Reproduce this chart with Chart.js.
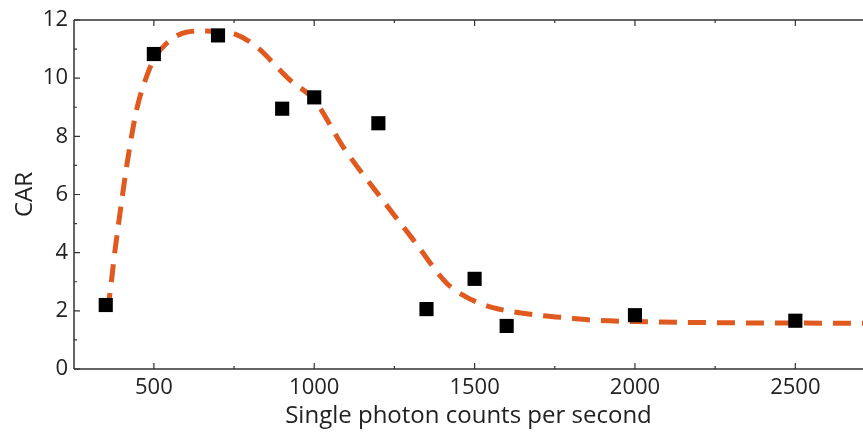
<!DOCTYPE html>
<html>
<head>
<meta charset="utf-8">
<script src="https://cdn.jsdelivr.net/npm/chart.js@4/dist/chart.umd.min.js"></script>
<style>
  html, body { margin: 0; padding: 0; background: #fff; }
  #wrap { width: 863px; height: 434px; }
</style>
</head>
<body>
<div id="wrap"><canvas id="c" width="863" height="434"></canvas></div>
<script>
// Measured data points (squares)
const measX = [350, 500, 700, 900, 1000, 1200, 1350, 1500, 1600, 2000, 2500];
const measY = [2.2, 10.83, 11.47, 8.95, 9.34, 8.45, 2.06, 3.1, 1.48, 1.85, 1.66];

// Fitted curve (dashed)
const fitX = [355, 363, 379, 400, 415, 446, 477, 500, 540, 600, 650, 700, 748, 820, 893, 924, 1000, 1090, 1205, 1309, 1413, 1470, 1517, 1560, 1620, 1700, 1808, 1870, 2000, 2285, 2500, 2711];
const fitY = [2.0, 2.6, 4.09, 5.8, 6.96, 8.9, 10.05, 10.65, 11.2, 11.58, 11.62, 11.6, 11.54, 11.08, 10.28, 9.94, 9.25, 7.64, 5.93, 4.44, 2.95, 2.5, 2.26, 2.1, 1.97, 1.85, 1.74, 1.68, 1.63, 1.59, 1.58, 1.57];

// Axis ticks
const xMajorTicks = [500, 1000, 1500, 2000, 2500];
const xMinorTicks = [750, 1250, 1750, 2250];
const yMajorTicks = [0, 2, 4, 6, 8, 10, 12];
const yMinorTicks = [1, 3, 5, 7, 9, 11];
const xRange = [251, 2711];
const yRange = [0, 12];

const xTitle = 'Single photon counts per second';
const yTitle = 'CAR';

const FONT = "'Open Sans', 'Noto Sans', sans-serif";
const INK = '#222';

const framePlugin = {
  id: 'frame',
  afterDatasetsDraw(chart) {
    const ctx = chart.ctx;
    const a = chart.chartArea;
    const xs = chart.scales.x, ys = chart.scales.y;
    ctx.save();
    ctx.strokeStyle = '#333';
    ctx.lineWidth = 1.5;
    ctx.beginPath();
    ctx.moveTo(a.left, a.top); ctx.lineTo(a.left, a.bottom);
    ctx.moveTo(a.left, a.bottom); ctx.lineTo(a.right, a.bottom);
    ctx.moveTo(a.left, a.top); ctx.lineTo(a.right, a.top);
    ctx.stroke();
    ctx.lineWidth = 1.2;
    ctx.beginPath();
    const xt = (v, len) => {
      const px = xs.getPixelForValue(v);
      ctx.moveTo(px, a.bottom); ctx.lineTo(px, a.bottom - len);
      ctx.moveTo(px, a.top); ctx.lineTo(px, a.top + len);
    };
    const yt = (v, len) => {
      const py = ys.getPixelForValue(v);
      ctx.moveTo(a.left, py); ctx.lineTo(a.left + len, py);
    };
    xMajorTicks.forEach(v => xt(v, 6));
    xMinorTicks.forEach(v => xt(v, 3));
    yMajorTicks.forEach(v => yt(v, 6));
    yMinorTicks.forEach(v => yt(v, 3));
    ctx.stroke();
    ctx.restore();
  }
};

new Chart(document.getElementById('c'), {
  type: 'scatter',
  data: {
    datasets: [
      {
        label: 'CAR',
        data: measX.map((x, i) => ({ x, y: measY[i] })),
        pointStyle: 'rect',
        pointRadius: 10,
        pointHoverRadius: 10,
        backgroundColor: '#000',
        borderColor: '#000',
        borderWidth: 0,
        order: 0
      },
      {
        label: 'Fit',
        data: fitX.map((x, i) => ({ x, y: fitY[i] })),
        showLine: true,
        pointRadius: 0,
        borderColor: '#e05a1f',
        borderWidth: 5,
        borderDash: [18, 11],
        cubicInterpolationMode: 'monotone',
        fill: false,
        order: 1
      }
    ]
  },
  options: {
    responsive: false,
    animation: false,
    events: [],
    layout: { autoPadding: false, padding: { top: 20, right: 0, left: 0, bottom: 0 } },
    plugins: { legend: { display: false }, tooltip: { enabled: false } },
    scales: {
      x: {
        type: 'linear',
        min: xRange[0],
        max: xRange[1],
        afterBuildTicks(scale) { scale.ticks = xMajorTicks.map(v => ({ value: v })); },
        afterFit(scale) { scale.height = 65; },
        grid: { display: false, drawTicks: false },
        border: { display: false },
        ticks: { color: INK, font: { family: FONT, size: 22 }, padding: 6, maxRotation: 0, callback: v => String(v) },
        title: { display: true, text: xTitle, color: INK, font: { family: FONT, size: 24 }, padding: { top: 0, bottom: 3 } }
      },
      y: {
        type: 'linear',
        min: yRange[0],
        max: yRange[1],
        afterBuildTicks(scale) { scale.ticks = yMajorTicks.map(v => ({ value: v })); },
        afterFit(scale) { scale.width = 74; },
        grid: { display: false, drawTicks: false },
        border: { display: false },
        ticks: { color: INK, font: { family: FONT, size: 22 }, padding: 6, callback: v => String(v) },
        title: { display: true, text: yTitle, color: INK, font: { family: FONT, size: 24 }, padding: { top: 11, bottom: 0 } }
      }
    }
  },
  plugins: [framePlugin]
});
</script>
</body>
</html>
